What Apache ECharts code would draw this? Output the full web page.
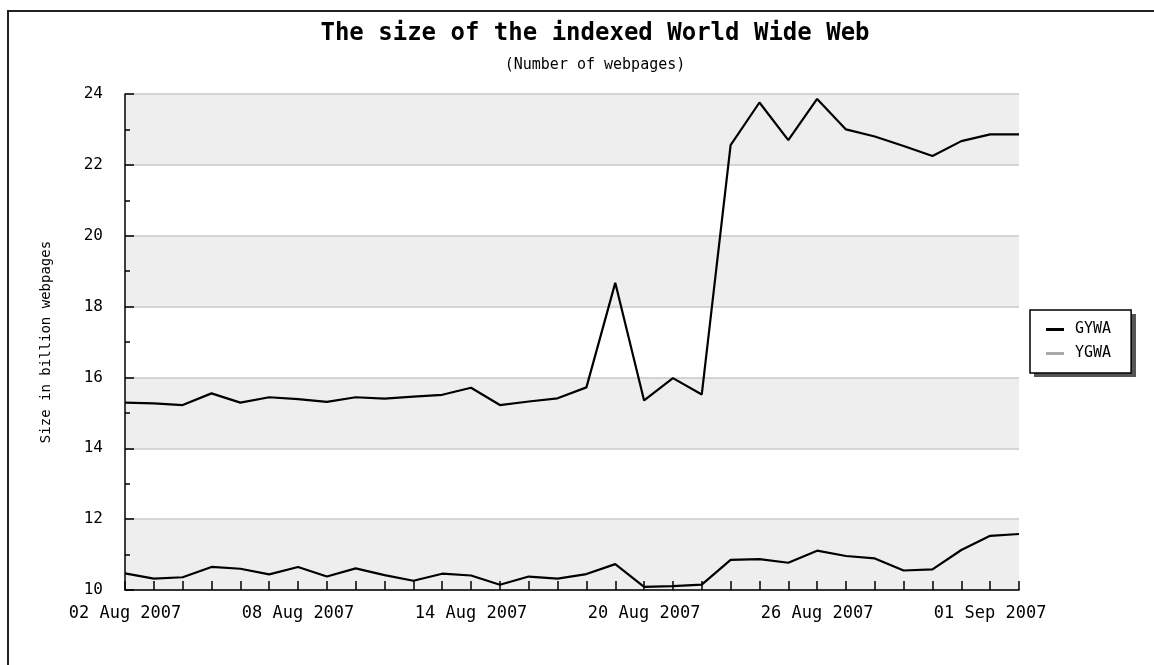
<!DOCTYPE html>
<html>
<head>
<meta charset="utf-8">
<script src="https://cdn.jsdelivr.net/npm/echarts@6/dist/echarts.min.js"></script>
<style>
html,body{margin:0;padding:0;background:#fff;}
#chart{width:1154px;height:665px;}
</style>
</head>
<body>
<div id="chart"></div>
<script>
var categories = ['02 Aug 2007','03 Aug 2007','04 Aug 2007','05 Aug 2007','06 Aug 2007','07 Aug 2007','08 Aug 2007','09 Aug 2007','10 Aug 2007','11 Aug 2007','12 Aug 2007','13 Aug 2007','14 Aug 2007','15 Aug 2007','16 Aug 2007','17 Aug 2007','18 Aug 2007','19 Aug 2007','20 Aug 2007','21 Aug 2007','22 Aug 2007','23 Aug 2007','24 Aug 2007','25 Aug 2007','26 Aug 2007','27 Aug 2007','28 Aug 2007','29 Aug 2007','30 Aug 2007','31 Aug 2007','01 Sep 2007','02 Sep 2007'];
var gywa = [15.29,15.27,15.22,15.55,15.29,15.44,15.39,15.31,15.44,15.40,15.46,15.51,15.71,15.22,15.32,15.41,15.72,18.67,15.35,15.98,15.52,22.56,23.76,22.70,23.86,23.00,22.80,22.53,22.25,22.67,22.86,22.86];
var ygwa = [10.47,10.32,10.36,10.65,10.60,10.44,10.65,10.38,10.61,10.42,10.26,10.46,10.41,10.15,10.38,10.32,10.45,10.73,10.09,10.11,10.15,10.85,10.87,10.77,11.11,10.96,10.89,10.55,10.58,11.13,11.53,11.58];
var yTicks = {min:10, max:24, interval:2};

var font = '"DejaVu Sans Mono", monospace';
var chart = echarts.init(document.getElementById('chart'));
chart.setOption({
  animation:false,
  backgroundColor:'#fff',
  title:{
    text:'The size of the indexed World Wide Web',
    subtext:'(Number of webpages)',
    left:590, textAlign:'center', top:17, itemGap:12,
    textStyle:{fontFamily:font, fontSize:24, fontWeight:'bold', color:'#000'},
    subtextStyle:{fontFamily:font, fontSize:15, color:'#000'}
  },
  graphic:[
    {type:'polyline', z:0, shape:{points:[[8,665],[8,11],[1154,11]]}, style:{stroke:'#222', lineWidth:2, fill:null}},
    {type:'rect', z:0, shape:{x:1034, y:314, width:102, height:63}, style:{fill:'#555'}}
  ],
  legend:{
    orient:'vertical', left:1030, top:310, z:10,
    backgroundColor:'#fff', borderColor:'#000', borderWidth:1.5,
    padding:[12,20,12,16], itemGap:9, itemWidth:18, itemHeight:3,
    textStyle:{fontFamily:font, fontSize:15, color:'#000', padding:[0,0,0,6]},
    data:[
      {name:'GYWA', icon:'rect', itemStyle:{color:'#000'}},
      {name:'YGWA', icon:'rect', itemStyle:{color:'#aaa'}}
    ]
  },
  grid:{left:125, right:135, top:94, bottom:75},
  xAxis:{
    type:'category', data:categories, boundaryGap:false,
    axisLine:{lineStyle:{color:'#000', width:1.5}},
    axisTick:{show:true, inside:true, length:9, interval:0, lineStyle:{color:'#000', width:1.5}},
    axisLabel:{interval:5, fontFamily:font, fontSize:17, color:'#000', margin:15},
    splitLine:{show:false}
  },
  yAxis:{
    type:'value', min:yTicks.min, max:yTicks.max, interval:yTicks.interval,
    name:'Size in billion webpages', nameLocation:'middle', nameGap:72, nameRotate:90,
    nameTextStyle:{fontFamily:font, fontSize:14, color:'#000'},
    axisLine:{show:true, lineStyle:{color:'#000', width:1.5}},
    axisTick:{show:true, inside:true, length:9, lineStyle:{color:'#000', width:1.5}},
    minorTick:{show:true, splitNumber:2, length:5, lineStyle:{color:'#000', width:1.5}},
    axisLabel:{fontFamily:font, fontSize:16, color:'#000', margin:22},
    splitLine:{show:true, lineStyle:{color:'#c8c8c8', width:1.5}},
    splitArea:{show:true, areaStyle:{color:['#eeeeee','#ffffff']}}
  },
  series:[
    {name:'GYWA', type:'line', data:gywa, showSymbol:false, symbol:'none', lineStyle:{color:'#000', width:2.2}, itemStyle:{color:'#000'}},
    {name:'YGWA', type:'line', data:ygwa, showSymbol:false, symbol:'none', lineStyle:{color:'#000', width:2.2}, itemStyle:{color:'#aaa'}}
  ]
});
</script>
</body>
</html>
